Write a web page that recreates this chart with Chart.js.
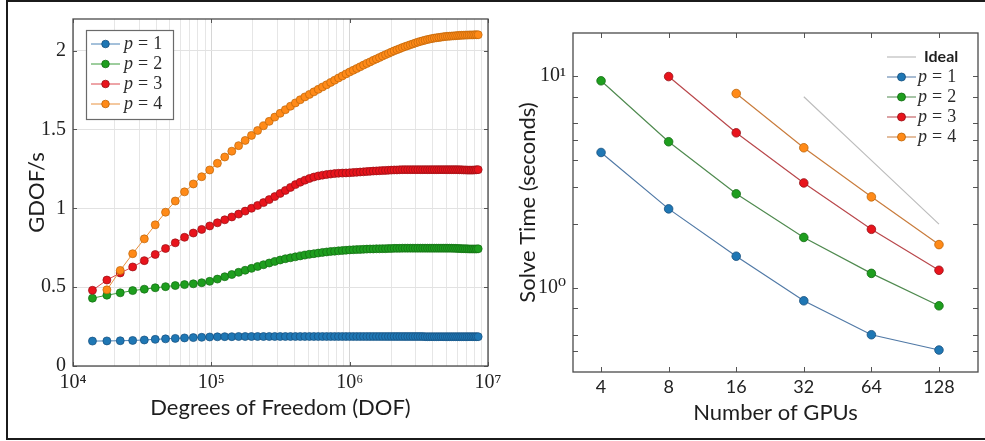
<!DOCTYPE html>
<html>
<head>
<meta charset="utf-8">
<title>GDOF/s and solve time</title>
<script src="https://cdn.jsdelivr.net/npm/chart.js@4.4.1/dist/chart.umd.min.js"></script>
<style>
    body { margin: 0; background: #fff; width: 985px; height: 441px; overflow: hidden; position: relative; }
    .panel { position: absolute; top: 0; height: 441px; }
    #left-panel { left: 0; width: 515px; }
    #right-panel { left: 492px; width: 493px; }
    .frame { position: absolute; left: 6px; top: 0; width: 990px; height: 436px; border: 2px solid #1b1b1b; border-right: none; pointer-events: none; }
</style>
</head>
<body>
<div class="panel" id="left-panel"><canvas id="throughput-chart"></canvas></div>
<div class="panel" id="right-panel"><canvas id="scaling-chart"></canvas></div>
<div class="frame"></div>
<script>
// problem sizes (DOF), same meshes for every order
const dof = [
    13824, 17576, 21952, 27000, 32768, 39304, 46656, 54872, 64000, 74088,
    85184, 97336, 110592, 125000, 140608, 157464, 175616, 195112, 216000, 238328,
    262144, 287496, 314432, 343000, 373248, 405224, 438976, 474552, 512000, 551368,
    592704, 636056, 681472, 729000, 778688, 830584, 884736, 941192, 1000000, 1061208,
    1124864, 1191016, 1259712, 1331000, 1404928, 1481544, 1560896, 1643032, 1728000, 1815848,
    1906624, 2000376, 2097152, 2197000, 2299968, 2406104, 2515456, 2628072, 2744000, 2863288,
    2985984, 3112136, 3241792, 3375000, 3511808, 3652264, 3796416, 3944312, 4096000, 4251528,
    4410944, 4574296, 4741632, 4913000, 5088448, 5268024, 5451776, 5639752, 5832000, 6028568,
    6229504, 6434856, 6644672, 6859000, 7077888, 7301384, 7529536, 7762392, 8000000, 8242408,
    8489664
]

// throughput in GDOF/s
const gdofP1 = [
    0.158, 0.159, 0.160, 0.162, 0.165, 0.169, 0.172, 0.175, 0.178, 0.180,
    0.182, 0.184, 0.185, 0.186, 0.186, 0.187, 0.187, 0.187, 0.187, 0.187,
    0.187, 0.187, 0.187, 0.187, 0.187, 0.187, 0.187, 0.187, 0.187, 0.187,
    0.187, 0.187, 0.187, 0.187, 0.187, 0.187, 0.187, 0.187, 0.187, 0.187,
    0.187, 0.187, 0.187, 0.187, 0.187, 0.187, 0.187, 0.187, 0.187, 0.187,
    0.187, 0.187, 0.187, 0.187, 0.187, 0.187, 0.187, 0.187, 0.187, 0.187,
    0.187, 0.187, 0.187, 0.187, 0.186, 0.186, 0.186, 0.186, 0.186, 0.186,
    0.186, 0.186, 0.186, 0.186, 0.186, 0.186, 0.186, 0.186, 0.186, 0.186,
    0.186, 0.186, 0.186, 0.186, 0.186, 0.186, 0.186, 0.186, 0.186, 0.186,
    0.186
]
const gdofP2 = [
    0.430, 0.449, 0.464, 0.478, 0.487, 0.496, 0.503, 0.510, 0.516, 0.521,
    0.528, 0.537, 0.551, 0.566, 0.580, 0.594, 0.607, 0.619, 0.631, 0.642,
    0.653, 0.663, 0.672, 0.680, 0.686, 0.692, 0.698, 0.703, 0.708, 0.712,
    0.716, 0.720, 0.723, 0.726, 0.728, 0.730, 0.732, 0.734, 0.736, 0.737,
    0.738, 0.739, 0.740, 0.741, 0.742, 0.742, 0.743, 0.743, 0.744, 0.744,
    0.745, 0.745, 0.746, 0.746, 0.746, 0.747, 0.747, 0.747, 0.747, 0.747,
    0.747, 0.747, 0.747, 0.747, 0.747, 0.747, 0.747, 0.747, 0.747, 0.747,
    0.747, 0.747, 0.747, 0.747, 0.747, 0.747, 0.747, 0.746, 0.746, 0.745,
    0.745, 0.744, 0.744, 0.743, 0.743, 0.742, 0.742, 0.742, 0.742, 0.742,
    0.743
]
const gdofP3 = [
    0.480, 0.545, 0.590, 0.628, 0.668, 0.707, 0.745, 0.781, 0.816, 0.843,
    0.866, 0.888, 0.908, 0.927, 0.945, 0.963, 0.982, 1.000, 1.018, 1.036,
    1.055, 1.074, 1.094, 1.113, 1.132, 1.150, 1.165, 1.178, 1.189, 1.198,
    1.205, 1.210, 1.214, 1.217, 1.220, 1.222, 1.223, 1.224, 1.225, 1.227,
    1.228, 1.230, 1.231, 1.233, 1.234, 1.236, 1.237, 1.238, 1.239, 1.240,
    1.241, 1.242, 1.243, 1.243, 1.244, 1.245, 1.245, 1.245, 1.245, 1.245,
    1.245, 1.245, 1.245, 1.245, 1.245, 1.245, 1.245, 1.245, 1.245, 1.245,
    1.245, 1.245, 1.245, 1.245, 1.245, 1.245, 1.245, 1.245, 1.245, 1.245,
    1.244, 1.244, 1.243, 1.243, 1.242, 1.242, 1.242, 1.242, 1.243, 1.244,
    1.245
]
const gdofP4 = [
    null, 0.483, 0.606, 0.712, 0.806, 0.895, 0.975, 1.046, 1.104, 1.154,
    1.200, 1.243, 1.285, 1.325, 1.362, 1.397, 1.430, 1.462, 1.493, 1.523,
    1.551, 1.578, 1.602, 1.625, 1.647, 1.668, 1.688, 1.706, 1.722, 1.738,
    1.754, 1.769, 1.783, 1.798, 1.812, 1.826, 1.839, 1.852, 1.864, 1.875,
    1.886, 1.897, 1.908, 1.918, 1.928, 1.938, 1.947, 1.956, 1.965, 1.974,
    1.982, 1.990, 1.998, 2.005, 2.012, 2.019, 2.025, 2.031, 2.037, 2.042,
    2.048, 2.053, 2.058, 2.062, 2.066, 2.070, 2.073, 2.076, 2.079, 2.081,
    2.083, 2.085, 2.087, 2.089, 2.090, 2.091, 2.092, 2.093, 2.094, 2.095,
    2.096, 2.097, 2.097, 2.098, 2.098, 2.099, 2.099, 2.099, 2.100, 2.100,
    2.100
]

const dofDecades = [1e4, 1e5, 1e6, 1e7]
const dofLabels = ['10⁴', '10⁵', '10⁶', '10⁷']
const gdofTicks = [0, 0.5, 1, 1.5, 2]
const gdofLabels = ['0', '0.5', '1', '1.5', '2']

// strong scaling, solve time in seconds
const gpus = [4, 8, 16, 32, 64, 128]
const timeP1 = [4.36, 2.36, 1.41, 0.868, 0.600, 0.508]
const timeP2 = [9.51, 4.90, 2.78, 1.73, 1.17, 0.822]
const timeP3 = [null, 9.96, 5.40, 3.13, 1.89, 1.21]
const timeP4 = [null, null, 8.28, 4.59, 2.69, 1.60]
const timeIdeal = [null, null, null, 8, 4, 2]

const timeDecades = [1, 10]
const timeLabels = ['10⁰', '10¹']
const timeMarks = [0.5, 0.6, 0.8, 1, 2, 3, 4, 5, 6, 8, 10]

const series = [
    { p: 1, fill: '#1f77b4', edge: '#164f7e', line: '#4a82b6', muted: '#5079a6' },
    { p: 2, fill: '#1e9e1e', edge: '#136b13', line: '#3c9c3c', muted: '#4f8a4f' },
    { p: 3, fill: '#e8141c', edge: '#961016', line: '#dc4a50', muted: '#b9474b' },
    { p: 4, fill: '#ff8a18', edge: '#bd6408', line: '#e8913f', muted: '#c97c3c' }
]

const serif = '"Liberation Serif", "DejaVu Serif", serif'
const sans = 'Lato, "Open Sans", sans-serif'

const toPoints = (xs, ys) => xs.map((x, i) => ({ x, y: ys[i] })).filter(pt => pt.y !== null)

function drawOrderLabel(ctx, x, y, p) {
    ctx.textBaseline = 'middle'
    ctx.textAlign = 'left'
    ctx.fillStyle = '#2b2b2b'
    ctx.font = `italic 18px ${serif}`
    ctx.fillText('p', x, y)
    let cx = x + ctx.measureText('p').width + 5
    ctx.font = `18px ${serif}`
    ctx.fillText('=', cx, y)
    cx += ctx.measureText('=').width + 5
    ctx.fillText(String(p), cx, y)
}

function drawKey(ctx, x, y, s, line, r) {
    ctx.strokeStyle = line
    ctx.lineWidth = 1
    ctx.beginPath()
    ctx.moveTo(x, y)
    ctx.lineTo(x + 29, y)
    ctx.stroke()
    ctx.fillStyle = s.fill
    ctx.strokeStyle = s.edge
    ctx.lineWidth = 0.8
    ctx.beginPath()
    ctx.arc(x + 14.5, y, r, 0, Math.PI * 2)
    ctx.fill()
    ctx.stroke()
}

// axis box plus short inward tick marks
function boxPlugin(xMarks, yMarks, tickLen) {
    return {
        id: 'box',
        afterDatasetsDraw(chart) {
            const { ctx, chartArea: a, scales: { x, y } } = chart
            ctx.save()
            ctx.strokeStyle = '#555'
            ctx.lineWidth = 1
            ctx.beginPath()
            xMarks.forEach(v => {
                const px = Math.round(x.getPixelForValue(v)) + 0.5
                ctx.moveTo(px, a.bottom); ctx.lineTo(px, a.bottom - tickLen)
                ctx.moveTo(px, a.top); ctx.lineTo(px, a.top + tickLen)
            })
            yMarks.forEach(v => {
                const py = Math.round(y.getPixelForValue(v)) + 0.5
                ctx.moveTo(a.left, py); ctx.lineTo(a.left + tickLen, py)
                ctx.moveTo(a.right, py); ctx.lineTo(a.right - tickLen, py)
            })
            ctx.stroke()
            ctx.strokeStyle = '#4a4a4a'
            ctx.lineWidth = 1.3
            ctx.strokeRect(a.left, a.top, a.right - a.left, a.bottom - a.top)
            ctx.restore()
        }
    }
}

const throughputKey = {
    id: 'throughputKey',
    afterDraw(chart) {
        const ctx = chart.ctx
        ctx.save()
        ctx.fillStyle = '#fff'
        ctx.fillRect(86, 30, 87, 89)
        ctx.strokeStyle = '#6a6a6a'
        ctx.lineWidth = 1.2
        ctx.strokeRect(86.5, 30.5, 87, 89)
        series.forEach((s, i) => {
            const y = 44 + i * 20
            drawKey(ctx, 91, y, s, s.line, 3.8)
            drawOrderLabel(ctx, 124, y, s.p)
        })
        ctx.restore()
    }
}

const scalingKey = {
    id: 'scalingKey',
    afterDraw(chart) {
        const ctx = chart.ctx
        ctx.save()
        ctx.strokeStyle = '#bdbdbd'
        ctx.lineWidth = 1.2
        ctx.beginPath()
        ctx.moveTo(395, 57)
        ctx.lineTo(424, 57)
        ctx.stroke()
        ctx.fillStyle = '#1e1e1e'
        ctx.font = `bold 16px ${sans}`
        ctx.textBaseline = 'middle'
        ctx.fillText('Ideal', 432, 57)
        series.forEach((s, i) => {
            const y = 77 + i * 20
            drawKey(ctx, 395, y, s, s.muted, 4)
            drawOrderLabel(ctx, 426, y, s.p)
        })
        ctx.restore()
    }
}

new Chart(document.getElementById('throughput-chart'), {
    type: 'line',
    data: {
        datasets: series.map((s, i) => ({
            label: `p = ${s.p}`,
            data: toPoints(dof, [gdofP1, gdofP2, gdofP3, gdofP4][i]),
            borderColor: s.line,
            borderWidth: 1,
            pointBackgroundColor: s.fill,
            pointBorderColor: s.edge,
            pointBorderWidth: 0.7,
            pointRadius: 4,
            tension: 0,
            order: series.length - i
        }))
    },
    options: {
        responsive: true,
        maintainAspectRatio: false,
        animation: false,
        layout: { padding: { top: 19, right: 27, left: 0, bottom: 0 } },
        plugins: { legend: { display: false }, tooltip: { enabled: false } },
        scales: {
            x: {
                type: 'logarithmic',
                min: 1e4,
                max: 1e7,
                border: { display: false },
                grid: {
                    drawTicks: false,
                    color: ctx => dofDecades.includes(ctx.tick && ctx.tick.value) ? '#d6d6d6' : '#e6e6e6'
                },
                afterBuildTicks: axis => {
                    const ticks = []
                    dofDecades.slice(0, -1).forEach(d => {
                        for (let m = 1; m < 10; m++) ticks.push({ value: d * m })
                    })
                    ticks.push({ value: dofDecades[dofDecades.length - 1] })
                    axis.ticks = ticks
                },
                ticks: {
                    autoSkip: false,
                    maxRotation: 0,
                    padding: 5,
                    color: '#222',
                    font: { family: serif, size: 20 },
                    callback: v => {
                        const k = dofDecades.indexOf(v)
                        return k < 0 ? '' : dofLabels[k]
                    }
                },
                afterFit: axis => { axis.height = 75 },
                title: {
                    display: true,
                    text: 'Degrees of Freedom (DOF)',
                    color: '#1e1e1e',
                    font: { family: sans, size: 22 },
                    padding: { top: 0, bottom: 20 }
                }
            },
            y: {
                min: 0,
                max: 2.2,
                border: { display: false },
                grid: { drawTicks: false, color: '#e2e2e2' },
                afterBuildTicks: axis => { axis.ticks = gdofTicks.map(value => ({ value })) },
                ticks: {
                    padding: 7,
                    color: '#222',
                    font: { family: serif, size: 20 },
                    callback: v => {
                        const k = gdofTicks.indexOf(v)
                        return k < 0 ? '' : gdofLabels[k]
                    }
                },
                afterFit: axis => { axis.width = 73 },
                title: {
                    display: true,
                    text: 'GDOF/s',
                    color: '#1e1e1e',
                    font: { family: sans, size: 22 },
                    padding: { top: 24, bottom: 0 }
                }
            }
        }
    },
    plugins: [boxPlugin(dofDecades, gdofTicks, 4), throughputKey]
})

const timeSeries = [timeP1, timeP2, timeP3, timeP4]

new Chart(document.getElementById('scaling-chart'), {
    type: 'line',
    data: {
        datasets: [{
            label: 'Ideal',
            data: toPoints(gpus, timeIdeal),
            borderColor: '#bdbdbd',
            borderWidth: 1.2,
            pointRadius: 0,
            order: 5
        }].concat(series.map((s, i) => ({
            label: `p = ${s.p}`,
            data: toPoints(gpus, timeSeries[i]),
            borderColor: s.muted,
            borderWidth: 1.2,
            pointBackgroundColor: s.fill,
            pointBorderColor: s.edge,
            pointBorderWidth: 0.8,
            pointRadius: 4.3,
            tension: 0,
            order: series.length - i
        })))
    },
    options: {
        responsive: true,
        maintainAspectRatio: false,
        animation: false,
        layout: { padding: { top: 33, right: 7, left: 0, bottom: 0 } },
        plugins: { legend: { display: false }, tooltip: { enabled: false } },
        scales: {
            x: {
                type: 'logarithmic',
                min: 3,
                max: 191,
                border: { display: false },
                grid: { display: false, drawTicks: false },
                afterBuildTicks: axis => { axis.ticks = gpus.map(value => ({ value })) },
                ticks: {
                    autoSkip: false,
                    maxRotation: 0,
                    padding: 4,
                    color: '#222',
                    font: { family: sans, size: 18 },
                    callback: v => String(v)
                },
                afterFit: axis => { axis.height = 69 },
                title: {
                    display: true,
                    text: 'Number of GPUs',
                    color: '#1e1e1e',
                    font: { family: sans, size: 22 },
                    padding: { top: 0, bottom: 15 }
                }
            },
            y: {
                type: 'logarithmic',
                min: 0.4,
                max: 16,
                border: { display: false },
                grid: { display: false, drawTicks: false },
                afterBuildTicks: axis => { axis.ticks = timeDecades.map(value => ({ value })) },
                ticks: {
                    padding: 7,
                    color: '#222',
                    font: { family: serif, size: 20 },
                    callback: v => {
                        const k = timeDecades.indexOf(v)
                        return k < 0 ? '' : timeLabels[k]
                    }
                },
                afterFit: axis => { axis.width = 81 },
                title: {
                    display: true,
                    text: 'Solve Time (seconds)',
                    color: '#1e1e1e',
                    font: { family: sans, size: 22 },
                    padding: { top: 23, bottom: 0 }
                }
            }
        }
    },
    plugins: [boxPlugin(gpus, timeMarks, 5), scalingKey]
})
</script>
</body>
</html>
